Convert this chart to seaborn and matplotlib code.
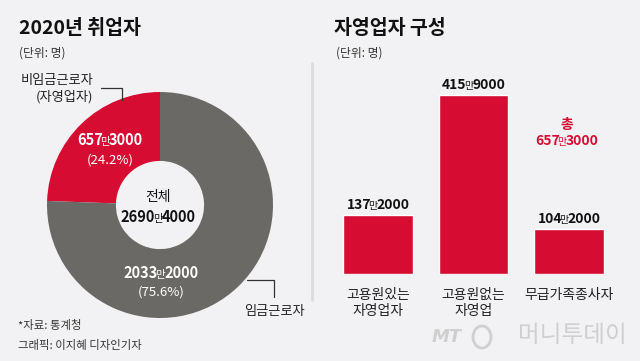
import matplotlib
matplotlib.use("Agg")
import matplotlib.pyplot as plt
from matplotlib.lines import Line2D
from matplotlib.patches import Ellipse
import seaborn as sns
import pandas as pd

W, H = 640, 361
BG = "#F2F2F4"
RED = "#D70C32"
GRAY = "#6B6966"

# ── Data (만 명) ──────────────────────────────────────────────
donut_labels = ["비임금근로자\n(자영업자)", "임금근로자"]
donut_values = [657.3, 2033.2]
donut_pct = ["(24.2%)", "(75.6%)"]
total_value = 2690.4

bar_cats = ["고용원있는\n자영업자", "고용원없는\n자영업", "무급가족종사자"]
bar_values = [137.2, 415.9, 104.2]
self_total = 657.3

sns.set_style("white")
plt.rcParams["font.family"] = ["Noto Sans CJK KR", "DejaVu Sans"]

fig = plt.figure(figsize=(6.4, 3.61), dpi=100, facecolor=BG)
renderer = fig.canvas.get_renderer()


def fx(x):
    return x / W


def fy(y):
    return 1 - y / H


def split_man(v):
    man = int(v)
    rest = round(v * 10000) % 10000
    return f"{man}", f"{rest:04d}"


def rich(x, y, v, size, color, ha="center"):
    # number with a small, light "만" in the middle, y = baseline in px
    a, b = split_man(v)
    parts = [(a, size, "bold", -2.5), ("만", size * 0.72, "normal", -1.0),
             (b, size, "bold", 0)]
    texts = []
    for s, sz, wt, _ in parts:
        t = fig.text(0, fy(y), s, fontsize=sz, fontweight=wt, color=color,
                     ha="left", va="baseline")
        texts.append(t)
    widths = [t.get_window_extent(renderer).width + p[3]
              for t, p in zip(texts, parts)]
    start = x - sum(widths) / 2 if ha == "center" else x
    for t, w in zip(texts, widths):
        t.set_x(fx(start))
        start += w


def txt(x, y, s, size, color="#222222", weight="normal", ha="left", **kw):
    fig.text(fx(x), fy(y), s, fontsize=size, color=color, fontweight=weight,
             ha=ha, va="center", **kw)


# ── Left: donut ───────────────────────────────────────────────
cx, cy, r = 160, 205, 113
ax_pie = fig.add_axes([fx(cx - r), fy(cy + r), 2 * r / W, 2 * r / H])
ax_pie.pie(donut_values, colors=[RED, GRAY], startangle=90, counterclock=True,
           wedgeprops=dict(width=0.61, linewidth=0))
ax_pie.set_xlim(-1, 1)
ax_pie.set_ylim(-1, 1)
ax_pie.set_facecolor(BG)
ax_pie.axis("off")

txt(19, 29, "2020년 취업자", 14, color="#111111", weight="bold")
txt(19, 53, "(단위: 명)", 8.5, color="#333333")

rich(110, 145, donut_values[0], 10.5, "white")
txt(110, 160, donut_pct[0], 9.5, color="white", ha="center")
rich(161, 278, donut_values[1], 10.5, "white")
txt(161, 292, donut_pct[1], 9.5, color="white", ha="center")

txt(158, 197, "전체", 10, color="#111111", ha="center")
rich(158, 222, total_value, 10.5, "#111111")

# callouts
txt(93, 89, donut_labels[0], 9.5, color="#222222", ha="right", linespacing=1.3)
fig.add_artist(Line2D([fx(101), fx(122), fx(122)], [fy(88), fy(88), fy(100)],
                      color="#333333", lw=0.9))
fig.add_artist(Line2D([fx(247), fx(274), fx(274)], [fy(280), fy(280), fy(297)],
                      color="#333333", lw=0.9))
txt(274, 312, donut_labels[1], 9.5, color="#222222", ha="center")

txt(18, 325, "*자료: 통계청", 8.2, color="#333333")
txt(18, 345, "그래픽: 이지혜 디자인기자", 8.2, color="#333333")

# divider
fig.add_artist(Line2D([fx(312), fx(312)], [fy(63), fy(300)], color="#DCDCDE", lw=2))

# ── Right: bars ───────────────────────────────────────────────
step = 95.5
left = 378 - step / 2
base = 274
ax_bar = fig.add_axes([fx(left), fy(base), 3 * step / W, 215 / H])
df = pd.DataFrame({"cat": bar_cats, "val": bar_values})
sns.barplot(data=df, x="cat", y="val", color=RED, saturation=1, width=0.73,
            ax=ax_bar)
ax_bar.set_xlim(-0.5, 2.5)
ax_bar.set_ylim(0, 500)
ax_bar.set_facecolor("none")
for sp in ax_bar.spines.values():
    sp.set_visible(False)
ax_bar.set_yticks([])
ax_bar.set_xlabel("")
ax_bar.set_ylabel("")
ax_bar.tick_params(axis="x", length=0, pad=10, labelsize=10, colors="#222222")
for lab in ax_bar.get_xticklabels():
    lab.set_verticalalignment("top")
    lab.set_linespacing(1.2)

for i, v in enumerate(bar_values):
    px, py = ax_bar.transData.transform((i, v))
    rich(px, H - py - 6, v, 10, "#111111")

txt(334, 29, "자영업자 구성", 14, color="#111111", weight="bold")
txt(336, 53, "(단위: 명)", 8.5, color="#333333")

txt(567, 125, "총", 10, color=RED, ha="center", weight="bold")
rich(567, 145, self_total, 10, RED)

# watermark
fig.text(fx(432), fy(337), "MT", fontsize=13, color="#CFCFCF", style="italic",
         fontweight="bold", ha="left", va="center", family="DejaVu Sans")
fig.add_artist(Ellipse((fx(482), fy(337)), 18 / W, 22 / H, fill=False,
                       ec="#CFCFCF", lw=2, angle=0))
txt(627, 336, "머니투데이", 17, color="#CFCFCF", ha="right")

fig.savefig("out.png", dpi=100, facecolor=BG)
